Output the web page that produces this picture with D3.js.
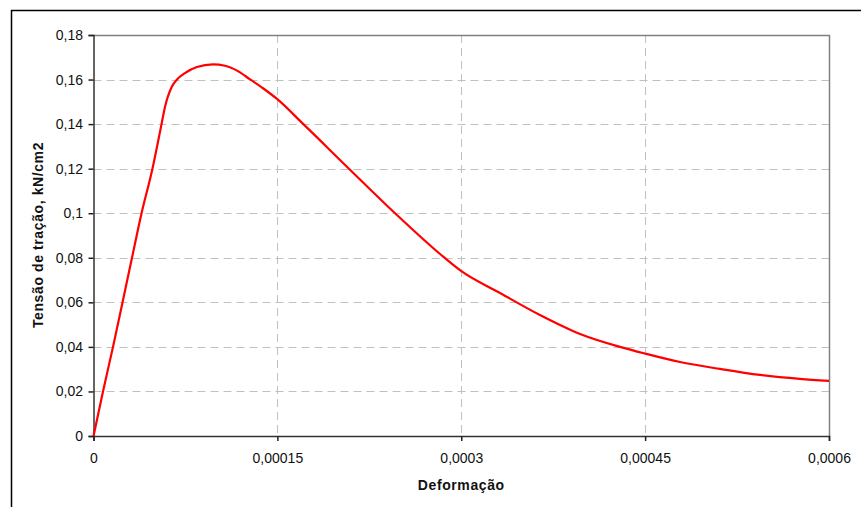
<!DOCTYPE html>
<html>
  <meta charset="utf-8">
  <head>
    <style>
        body {
              margin: 0;
              background-color: white;
              font-family: "Liberation Sans", Arial, sans-serif;
              }
    </style>
    <title>Tensão x Deformação</title>
    <script src="https://cdn.jsdelivr.net/npm/d3@7/dist/d3.min.js"></script>
  </head>
  <body>
    <script>
      // strain (Deformação) and tensile stress (kN/cm2)
      var deformacao = [0, 0.00000775, 0.0000159, 0.0000237, 0.0000314, 0.0000392, 0.0000481,
                        0.0000555, 0.0000583, 0.0000638, 0.0000681, 0.0000746, 0.0000844, 0.0000975,
                        0.0001073, 0.0001171, 0.0001277, 0.0001383, 0.0001497, 0.000171, 0.0002084,
                        0.000246, 0.0002827, 0.0002998, 0.0003316, 0.0003642, 0.0003969, 0.0004295,
                        0.0004499, 0.0004785, 0.0005111, 0.0005437, 0.0005763, 0.0006];
      var tensao = [0, 0.02, 0.04, 0.06, 0.08, 0.10, 0.12,
                    0.14, 0.1477, 0.1567, 0.16, 0.1629, 0.1656, 0.1668,
                    0.1662, 0.164, 0.1601, 0.1561, 0.1513, 0.1401, 0.12,
                    0.10, 0.0817, 0.0741, 0.0642, 0.0543, 0.0458, 0.04,
                    0.037, 0.0332, 0.0301, 0.0274, 0.0256, 0.0247];
      var xTicks = [0, 0.00015, 0.0003, 0.00045, 0.0006];
      var yTicks = [0, 0.02, 0.04, 0.06, 0.08, 0.1, 0.12, 0.14, 0.16, 0.18];

      function chart() {
        var W = 861, H = 507;
        var left = 93.5, right = 829, top = 35, bottom = 436;

        var svg = d3.select("body")
                    .append("svg")
                    .attr("width", W)
                    .attr("height", H);

        // outer chart border (runs off the right and bottom)
        svg.append("rect")
           .attr("x", 11.5).attr("y", 10.5)
           .attr("width", 900).attr("height", 600)
           .attr("fill", "white")
           .attr("stroke", "black")
           .attr("stroke-width", 1.5);

        var x = d3.scaleLinear().domain([0, 0.0006]).range([left, right]);
        var y = d3.scaleLinear().domain([0, 0.18]).range([bottom, top]);

        var fmt = function(v) { return String(+v.toPrecision(6)).replace(".", ","); };

        // dashed grid
        svg.selectAll("line.hgrid")
           .data(yTicks.filter(function(d) { return d > 0 && d < 0.18; }))
           .enter().append("line")
           .attr("class", "hgrid")
           .attr("x1", left).attr("x2", right)
           .attr("y1", function(d) { return Math.round(y(d)) + 0.5; })
           .attr("y2", function(d) { return Math.round(y(d)) + 0.5; })
           .attr("stroke", "#c0c0c0")
           .attr("stroke-dasharray", "8,5");

        svg.selectAll("line.vgrid")
           .data(xTicks.filter(function(d) { return d > 0 && d < 0.0006; }))
           .enter().append("line")
           .attr("class", "vgrid")
           .attr("y1", top).attr("y2", bottom)
           .attr("x1", function(d) { return Math.round(x(d)) + 0.5; })
           .attr("x2", function(d) { return Math.round(x(d)) + 0.5; })
           .attr("stroke", "#c0c0c0")
           .attr("stroke-dasharray", "8,5");

        // plot frame, top and right
        svg.append("path")
           .attr("d", "M" + left + "," + (top + 0.5) + "H" + (right + 0.5) + "V" + bottom)
           .attr("fill", "none")
           .attr("stroke", "#808080")
           .attr("stroke-width", 1.5);

        // axes
        var yAxis = d3.axisLeft(y).tickValues(yTicks).tickSize(5).tickPadding(5.5).tickFormat(fmt);
        var gy = svg.append("g").attr("transform", "translate(" + left + ",0)").call(yAxis);

        var xAxis = d3.axisBottom(x).tickValues(xTicks).tickSize(5).tickPadding(12).tickFormat(fmt);
        var gx = svg.append("g").attr("transform", "translate(0," + bottom + ")").call(xAxis);

        [gx, gy].forEach(function(g) {
          g.select(".domain").attr("stroke", "#333").attr("stroke-width", 1.5);
          g.selectAll(".tick line").attr("stroke", "#222").attr("stroke-width", 1.5);
          g.selectAll("text")
           .attr("font-family", "Liberation Sans, Arial, sans-serif")
           .attr("font-size", "14px")
           .attr("fill", "#111");
        });

        // the curve
        var pts = deformacao.map(function(d, i) { return [d, tensao[i]]; });
        var line = d3.line()
                     .x(function(d) { return x(d[0]); })
                     .y(function(d) { return y(d[1]); })
                     .curve(d3.curveMonotoneX);
        svg.append("path")
           .datum(pts)
           .attr("d", line)
           .attr("fill", "none")
           .attr("stroke", "#ff0000")
           .attr("stroke-width", 2.2);

        // axis titles
        svg.append("text")
           .text("Deformação")
           .attr("x", (left + right) / 2)
           .attr("y", 490)
           .attr("text-anchor", "middle")
           .attr("font-size", "14px")
           .attr("letter-spacing", "0.6px")
           .attr("font-weight", "bold")
           .attr("fill", "#111");

        svg.append("text")
           .text("Tensão de tração, kN/cm2")
           .attr("transform", "translate(42.5,235) rotate(-90)")
           .attr("text-anchor", "middle")
           .attr("font-size", "14px")
           .attr("letter-spacing", "0.6px")
           .attr("font-weight", "bold")
           .attr("fill", "#111");
      }

      chart();
    </script>
  </body>
</html>
